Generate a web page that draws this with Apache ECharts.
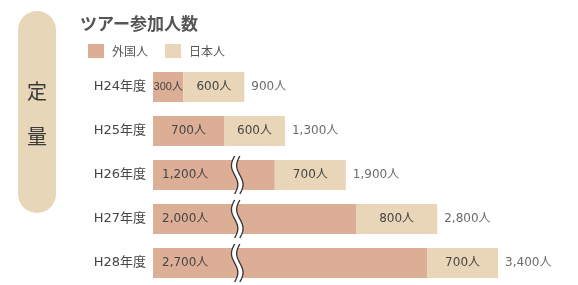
<!DOCTYPE html>
<html>
<head>
<meta charset="utf-8">
<script src="https://cdn.jsdelivr.net/npm/echarts@6/dist/echarts.min.js"></script>
<style>
  html, body { margin: 0; padding: 0; background: #fff; }
  #main { width: 578px; height: 285px; }
</style>
</head>
<body>
<div id="main"></div>
<script>
// 年度とツアー参加人数
var years = ['H24年度', 'H25年度', 'H26年度', 'H27年度', 'H28年度'];
var foreign = [300, 700, 1200, 2000, 2700];
var japanese = [600, 600, 700, 800, 700];
var totals = [900, 1300, 1900, 2800, 3400];
// 省略記号（波線）を付ける年度と位置
var breakRows = [2, 3, 4];
var breakAt = 830;

var FONT = '"DejaVu Sans", "Noto Sans CJK JP", sans-serif';
var CJK = '"Noto Sans CJK JP", sans-serif';
var C_FOREIGN = '#ddae96';
var C_JAPAN = '#e9d6b9';
var C_TEXT = '#454545';

function fmt(v) {
  return v.toLocaleString('en-US') + '人';
}

var chart = echarts.init(document.getElementById('main'));

var option = {
  animation: false,
  textStyle: { fontFamily: FONT },
  legend: {
    left: 83,
    top: 39,
    itemWidth: 16,
    itemHeight: 14,
    itemGap: 17,
    icon: 'rect',
    textStyle: { fontSize: 12, color: '#555', fontFamily: CJK, padding: [0, 0, 0, 3] },
    data: ['外国人', '日本人']
  },
  grid: { left: 153, top: 65, width: 406, height: 227 },
  xAxis: { type: 'value', min: 0, max: 4000, show: false },
  yAxis: {
    type: 'category',
    inverse: true,
    data: years,
    axisLine: { show: false },
    axisTick: { show: false },
    splitLine: { show: false },
    axisLabel: { margin: 7, fontSize: 13, color: C_TEXT, fontFamily: FONT }
  },
  graphic: [
    {
      type: 'rect',
      shape: { x: 18, y: 11, width: 38, height: 202, r: 19 },
      style: { fill: '#e8d6b9' },
      z: 0
    },
    {
      type: 'text', x: 37, y: 91,
      style: { text: '定', fill: '#3a3a3a', font: '20px ' + CJK, align: 'center', verticalAlign: 'middle' }
    },
    {
      type: 'text', x: 37, y: 136,
      style: { text: '量', fill: '#3a3a3a', font: '20px ' + CJK, align: 'center', verticalAlign: 'middle' }
    },
    {
      type: 'text', x: 80, y: 24,
      style: { text: 'ツアー参加人数', font: 'bold 17px ' + CJK, fill: '#555', verticalAlign: 'middle' }
    }
  ],
  series: [
    {
      name: '外国人',
      type: 'bar',
      stack: 'total',
      barWidth: 30,
      itemStyle: { color: C_FOREIGN },
      label: {
        show: true,
        fontSize: 12,
        color: C_TEXT,
        fontFamily: FONT,
        formatter: function (p) { return fmt(p.value); }
      },
      data: foreign.map(function (v, i) {
        var broken = breakRows.indexOf(i) >= 0;
        if (broken) {
          return { value: v, label: { position: 'insideLeft', distance: 9 } };
        }
        // 短い棒は細めの書体で収める
        if (v < 500) {
          return { value: v, label: { position: 'inside', fontSize: 11, fontFamily: '"Liberation Sans", "Noto Sans CJK JP", sans-serif' } };
        }
        return { value: v, label: { position: 'inside' } };
      })
    },
    {
      name: '日本人',
      type: 'bar',
      stack: 'total',
      barWidth: 30,
      itemStyle: { color: C_JAPAN },
      label: {
        show: true,
        position: 'inside',
        fontSize: 12,
        color: C_TEXT,
        fontFamily: FONT,
        formatter: function (p) { return fmt(p.value); }
      },
      data: japanese
    },
    {
      // 合計ラベル
      type: 'scatter',
      symbolSize: 0,
      silent: true,
      label: {
        show: true,
        position: 'right',
        distance: 7,
        fontSize: 12,
        color: C_TEXT,
        fontFamily: FONT,
        formatter: function (p) { return fmt(p.value[0]); }
      },
      data: totals.map(function (t, i) { return [t, i]; })
    },
    {
      // 波線（省略記号）
      type: 'custom',
      silent: true,
      z: 10,
      renderItem: function (params, api) {
        var c = api.coord([api.value(0), api.value(1)]);
        var h = 38;
        var top = c[1] - h / 2;
        var n = 24;
        var left = [], right = [];
        for (var k = 0; k <= n; k++) {
          var t = k / n;
          var dx = -3.2 * Math.sin(2 * Math.PI * t);
          left.push([c[0] - 2.6 + dx, top + h * t]);
          right.push([c[0] + 2.6 + dx, top + h * t]);
        }
        var poly = left.concat(right.slice().reverse());
        return {
          type: 'group',
          children: [
            { type: 'polygon', shape: { points: poly }, style: { fill: '#fff', stroke: null } },
            { type: 'polyline', shape: { points: left }, style: { stroke: '#333', lineWidth: 1.3, fill: null } },
            { type: 'polyline', shape: { points: right }, style: { stroke: '#333', lineWidth: 1.3, fill: null } }
          ]
        };
      },
      data: breakRows.map(function (r) { return [breakAt, r]; })
    }
  ]
};

chart.setOption(option);
</script>
</body>
</html>
